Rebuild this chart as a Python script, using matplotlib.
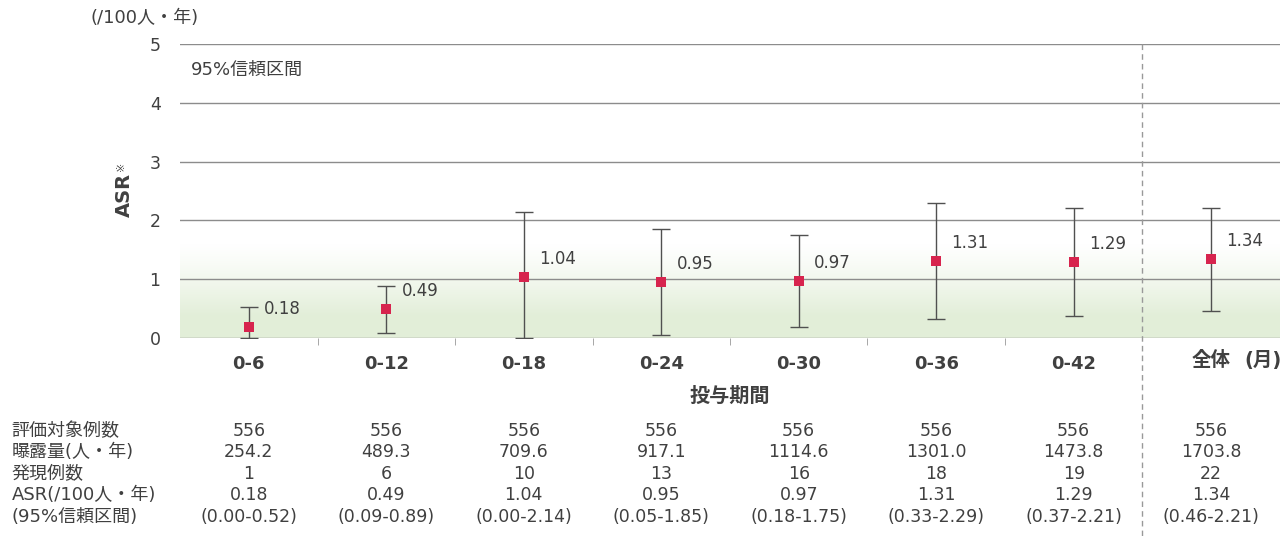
import numpy as np
import matplotlib
matplotlib.use('Agg')
import matplotlib.pyplot as plt
import matplotlib.transforms as mtransforms

plt.rcParams['font.family'] = ['DejaVu Sans', 'Noto Sans CJK JP']

# data
periods = ['0-6', '0-12', '0-18', '0-24', '0-30', '0-36', '0-42', '全体']
asr = [0.18, 0.49, 1.04, 0.95, 0.97, 1.31, 1.29, 1.34]
ci_lo = [0.00, 0.09, 0.00, 0.05, 0.18, 0.33, 0.37, 0.46]
ci_hi = [0.52, 0.89, 2.14, 1.85, 1.75, 2.29, 2.21, 2.21]
n_eval = [556, 556, 556, 556, 556, 556, 556, 556]
exposure = ['254.2', '489.3', '709.6', '917.1', '1114.6', '1301.0', '1473.8', '1703.8']
n_events = [1, 6, 10, 13, 16, 18, 19, 22]
row_labels = ['評価対象例数', '曝露量(人・年)', '発現例数', 'ASR(/100人・年)', '(95%信頼区間)']

txt = '#404040'

x = np.arange(len(periods))
asr = np.array(asr)
err = np.vstack([asr - np.array(ci_lo), np.array(ci_hi) - asr])

fig = plt.figure(figsize=(12.86, 5.36), dpi=100)
ax = fig.add_axes([0.14, 0.3694, 0.8553, 0.5486])

ax.set_xlim(-0.5, 7.5)
ax.set_ylim(0, 5)

# light green band near the bottom, fading upward
h = np.linspace(0, 1, 200)
alpha = np.clip(1.3 - h * 1.3, 0, 1) ** 1.2
rgba = np.zeros((200, 1, 4))
rgba[..., 0] = 0.89
rgba[..., 1] = 0.935
rgba[..., 2] = 0.85
rgba[:, 0, 3] = alpha
ax.imshow(rgba, extent=[-0.5, 7.5, 0, 1.6], aspect='auto', origin='lower', zorder=0)

for yv in range(6):
    ax.axhline(yv, color='#8c8c8c', lw=1.0, zorder=1)

for s in ax.spines.values():
    s.set_visible(False)

ax.errorbar(x, asr, yerr=err, fmt='none', ecolor='#505050', elinewidth=1.0,
            capsize=6.5, capthick=1.0, zorder=3)
ax.scatter(x, asr, marker='s', s=55, color='#d7244e', zorder=4, linewidths=0)

for xi, v in zip(x, asr):
    ax.annotate(f'{v:.2f}', (xi, v), xytext=(11, 13), textcoords='offset points',
                ha='left', va='center', fontsize=12, color=txt)

ax.set_yticks(range(6))
ax.tick_params(axis='y', length=0, pad=14, labelsize=12.5, labelcolor=txt)
ax.set_xticks(x[:7])
ax.set_xticklabels(periods[:7], fontsize=13, fontweight='bold', color=txt)
ax.tick_params(axis='x', length=0, pad=12)
ax.set_xticks(np.arange(0.5, 6.5, 1), minor=True)
ax.tick_params(axis='x', which='minor', length=5, color='#999999')

ax.text(7, -0.39, '全体', ha='center', va='center', fontsize=14,
        fontweight='bold', color=txt)
ax.text(7.38, -0.39, '(月)', ha='center', va='center', fontsize=14,
        fontweight='bold', color=txt)
ax.text(3.5, -1.0, '投与期間', ha='center', va='center', fontsize=14.5,
        fontweight='bold', color=txt)

# y label with small superscript mark
fig.text(0.097, 0.637, 'ASR', rotation=90, ha='center', va='center', fontsize=14,
         fontweight='bold', color=txt)
fig.text(0.094, 0.690, '※', rotation=90, ha='center', va='center', fontsize=8, color=txt)

fig.text(0.070, 0.966, '(/100人・年)', ha='left', va='center', fontsize=13, color=txt)
ax.text(-0.42, 4.55, '95%信頼区間', ha='left', va='center', fontsize=13, color=txt)

# dashed separator through chart and table
ax.plot([6.5, 6.5], [5.0, -3.4], ls=(0, (4, 3)), color='#999999', lw=1.0,
        clip_on=False, zorder=2)

# table below
trans = mtransforms.blended_transform_factory(ax.transData, fig.transFigure)
row_y = [1 - 431 / 536, 1 - 452 / 536, 1 - 474 / 536, 1 - 495 / 536, 1 - 517 / 536]
for lab, yy in zip(row_labels, row_y):
    fig.text(0.009, yy, lab, ha='left', va='center', fontsize=13, color=txt)
for i in range(len(periods)):
    cells = [str(n_eval[i]), exposure[i], str(n_events[i]), f'{asr[i]:.2f}',
             f'({ci_lo[i]:.2f}-{ci_hi[i]:.2f})']
    for c, yy in zip(cells, row_y):
        ax.text(x[i], yy, c, transform=trans, ha='center', va='center',
                fontsize=12.5, color=txt)

fig.savefig('out.png', dpi=100)
